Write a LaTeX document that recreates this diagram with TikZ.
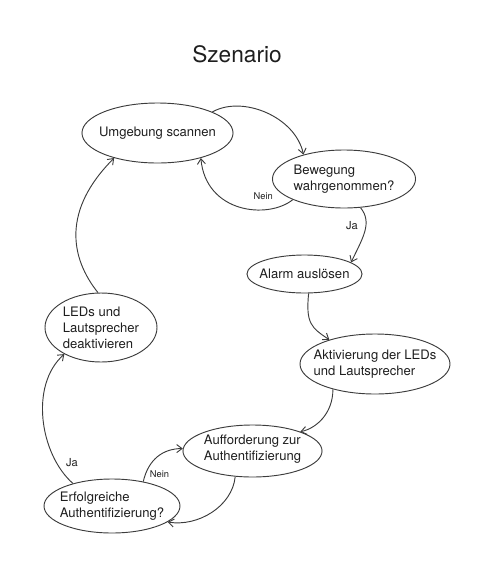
\documentclass[tikz,border=0pt]{standalone}
\usepackage{fontspec}
\setmainfont{TeX Gyre Heros}
\usepackage{tikz}
\usetikzlibrary{shapes.geometric, arrows.meta}
\definecolor{linegray}{RGB}{60,60,60}
\definecolor{textgray}{RGB}{30,30,30}
\tikzstyle{arrow} = [line width=0.7pt,color=linegray,-{Straight Barb[length=4pt,width=6pt]}]
\tikzstyle{state} = [ellipse,draw=linegray,line width=0.7pt,align=left,inner xsep=-12pt,inner ysep=0pt,text=textgray,font=\fontsize{9.8}{12}\selectfont]
\tikzstyle{choice} = [inner sep=0.75pt,text=textgray]

\begin{document}
\begin{tikzpicture}[x=0.75pt,y=0.75pt,yscale=-1,xscale=1]
\useasboundingbox (0,0) rectangle (493,565);

% Text Node
\node (title) [anchor=base,text=textgray,font=\fontsize{17}{20}\selectfont] at (237,62) {Szenario};

%Shape: Ellipse
\node (scan) [state,minimum width=113.3pt,minimum height=45pt] at (157.5,133) {Umgebung scannen};
%Shape: Ellipse
\node (detect) [state,minimum width=107.3pt,minimum height=43.5pt] at (344,179) {Bewegung\\wahrgenommen?};
%Shape: Ellipse
\node (alarm) [state,minimum width=86.3pt,minimum height=28.5pt] at (304.5,274) {Alarm auslösen};
%Shape: Ellipse
\node (activate) [state,minimum width=112.5pt,minimum height=45pt] at (375,364) {Aktivierung der LEDs\\und Lautsprecher};
%Shape: Ellipse
\node (request) [state,minimum width=104.3pt,minimum height=39pt,text depth=5pt] at (252.5,451) {Aufforderung zur\\Authentifizierung};
%Shape: Ellipse
\node (check) [state,minimum width=102pt,minimum height=40.5pt] at (112,506) {Erfolgreiche\\Authentifizierung?};
%Shape: Ellipse
\node (deactivate) [state,minimum width=84pt,minimum height=51.75pt] at (101,327.5) {LEDs und\\Lautsprecher\\deaktivieren};

%Curves
\draw [arrow] (scan.21) .. controls +(30,-17) and +(-8,-38) .. (detect.149);
\draw [arrow] (detect.202) .. controls +(-25,20) and +(5,55) .. (scan.330);
\draw [arrow] (detect.300) .. controls +(12,15) and +(12,-25) .. (alarm.14);
\draw [arrow] (alarm.282) .. controls +(-3,30) and +(-18,-12) .. (activate.152);
\draw [arrow] (activate.211) .. controls +(0,25) and +(15,-3) .. (request.22);
\draw [arrow] (request.236) .. controls +(-3,30) and +(30,5) .. (check.344);
\draw [arrow] (check.38) .. controls +(5,-22) and +(-20,0) .. (request.178);
\draw [arrow] (check.150) .. controls +(-33,-29) and +(-35,31) .. (deactivate.216);
\draw [arrow] (deactivate.95) .. controls +(-28,-35) and +(-52,52) .. (scan.210);

% Text Node
\node (nein1) [choice,font=\fontsize{7}{8}\selectfont] at (263.3,196.5) {Nein};
% Text Node
\node (ja1) [choice,font=\fontsize{8.3}{10}\selectfont] at (352,226) {Ja};
% Text Node
\node (nein2) [choice,font=\fontsize{7}{8}\selectfont] at (159.5,474.5) {Nein};
% Text Node
\node (ja2) [choice,font=\fontsize{8.3}{10}\selectfont] at (72,463) {Ja};

\end{tikzpicture}
\end{document}
